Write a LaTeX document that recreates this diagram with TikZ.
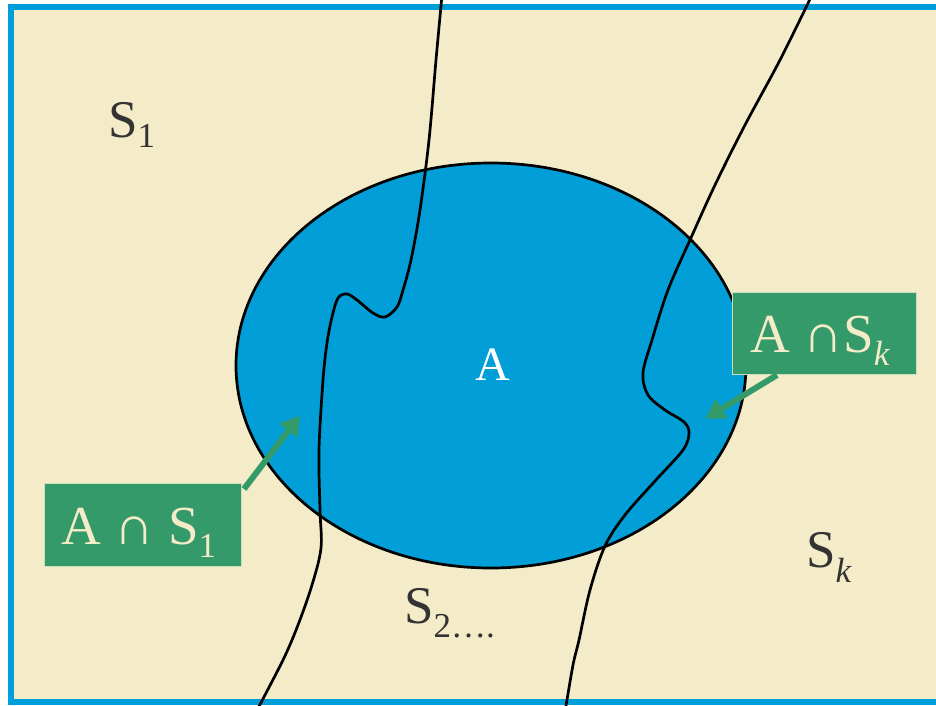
\documentclass[tikz,border=0pt]{standalone}
\usepackage{fontspec}
\setmainfont{Liberation Serif}
\usetikzlibrary{arrows.meta}
\definecolor{cream}{HTML}{F4ECC8}
\definecolor{frameblue}{HTML}{019FDA}
\definecolor{setblue}{HTML}{019ED8}
\definecolor{boxgreen}{HTML}{359A6A}
\definecolor{boxedge}{HTML}{C8E0BC}
\definecolor{labeldark}{HTML}{333333}
\newcommand\bigtxt{\fontsize{53}{60}\selectfont}
\newcommand\boxtxt{\fontsize{55}{62}\selectfont}
\newcommand\subtxt[2]{\raisebox{-#1pt}{\fontsize{35}{40}\selectfont #2}}
\tikzset{
  region/.style={draw=black, line width=2.7pt},
  setlabel/.style={inner sep=0pt, anchor=base west, text=labeldark, font=\bigtxt},
  greenbox/.style={fill=boxgreen, draw=boxedge, line width=1pt, inner sep=0pt},
  boxlabel/.style={inner sep=0pt, anchor=base west, text=cream, font=\boxtxt},
  pointer/.style={draw=boxgreen, line width=6pt,
     -{Triangle[length=19pt,width=22pt]}, shorten >=-3pt}
}
\begin{document}
\begin{tikzpicture}[x=1pt,y=-1pt]
\useasboundingbox (0,0) rectangle (936,706);
\clip (0,0) rectangle (936,706);
% frame
\fill[white] (0,0) rectangle (936,706);
\draw[fill=cream, draw=frameblue, line width=6pt] (11,7) rectangle (945,702);
% set A
\draw[region, fill=setblue] (491,365.5) ellipse [x radius=255, y radius=202.5];
% partition curves
\draw[region, line cap=round] plot[smooth, tension=0.55] coordinates {
  (442,-5) (436,60) (429,140) (420,210) (411,260) (403,290) (397,307) (385,317)
  (373,313) (357,300) (347,294) (338,298) (332,317) (327,343) (323,380)
  (319,450) (320,510) (321,548) (312,585) (298,625) (283,660) (256,712)};
\draw[region, line cap=round] plot[smooth, tension=0.55] coordinates {
  (812,-5) (780,60) (745,125) (715,185) (690,240) (668,290) (652,340)
  (643,373) (648,395) (665,410) (684,422) (689,433) (683,450) (655,481)
  (625,515) (605,546) (590,590) (579,640) (573,665) (565,712)};
% labels of the parts
\node[setlabel] (s1) at (108,137) {S\subtxt{10}{1}};
\node[setlabel] (s2) at (404,623) {S\subtxt{14}{2….}};
\node[setlabel] (sk) at (806,567) {S\subtxt{15}{\itshape k}};
\node[inner sep=0pt, anchor=base, text=white, font=\fontsize{48}{55}\selectfont] (a) at (493,380) {A};
% intersection boxes
\node[greenbox, minimum width=197pt, minimum height=83pt] (b1) at (142.5,524.5) {};
\node[boxlabel] (t1) at (61,544) {A ∩ S\subtxt{13}{1}};
\node[greenbox, minimum width=184pt, minimum height=82pt] (bk) at (824,333) {};
\node[boxlabel] (tk) at (750,352) {A ∩S\subtxt{13}{\itshape k}};
% pointers
\coordinate (p1s) at (244,489);
\coordinate (p1e) at (298,418);
\coordinate (pks) at (777,375);
\coordinate (pke) at (708,417);
\draw[pointer] (p1s) -- (p1e);
\draw[pointer] (pks) -- (pke);
\end{tikzpicture}
\end{document}
